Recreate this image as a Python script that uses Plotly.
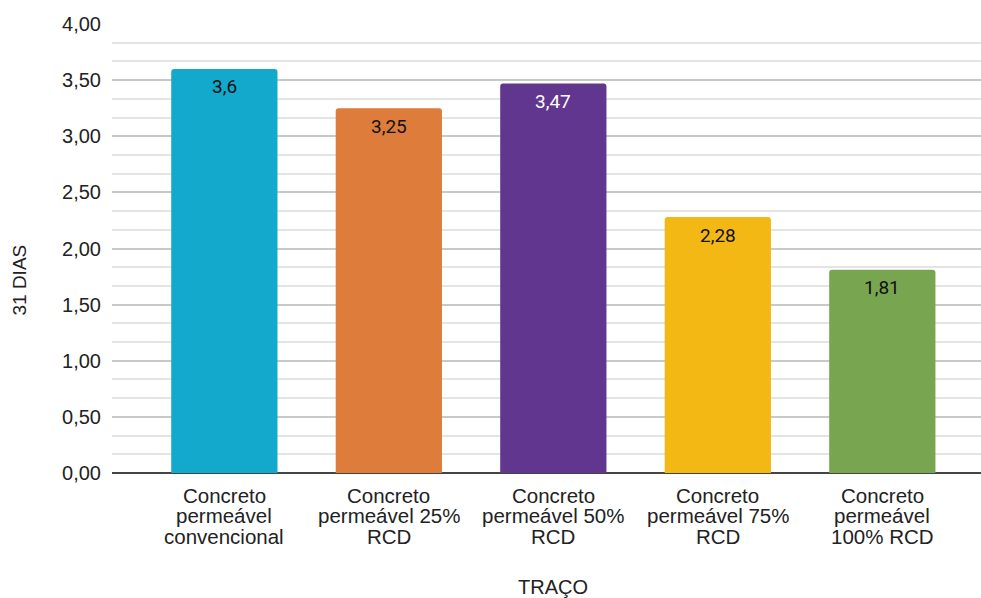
import plotly.graph_objects as go

categories = [
    "Concreto<br>permeável<br>convencional",
    "Concreto<br>permeável 25%<br>RCD",
    "Concreto<br>permeável 50%<br>RCD",
    "Concreto<br>permeável 75%<br>RCD",
    "Concreto<br>permeável<br>100% RCD",
]
values = [3.6, 3.25, 3.47, 2.28, 1.81]
colors = ["#12a9cc", "#dd7c3b", "#61368e", "#f3b814", "#78a54f"]
label_colors = ["#111111", "#111111", "#ffffff", "#111111", "#111111"]
y_ticks = [0, 0.5, 1.0, 1.5, 2.0, 2.5, 3.0, 3.5, 4.0]
x_title = "TRAÇO"
y_title = "31 DIAS"

FONT = "Liberation Sans, Arial, sans-serif"

fig = go.Figure()
fig.add_trace(go.Bar(
    x=list(range(len(categories))),
    y=values,
    marker=dict(color=colors, line=dict(width=0), cornerradius=3),
    width=0.646,
    hoverinfo="skip",
))

# data labels
for i, v in enumerate(values):
    fig.add_annotation(
        x=i, y=v, text=("%g" % v).replace(".", ","),
        showarrow=False, yanchor="middle", yshift=-18,
        font=dict(family="Roboto", size=19, color=label_colors[i]),
    )

# category labels (line by line for tight line spacing)
for i, cat in enumerate(categories):
    for j, line in enumerate(cat.split("<br>")):
        fig.add_annotation(
            x=i, y=0, text=line, showarrow=False,
            xanchor="center", yanchor="middle", yshift=-22 - 20.5 * j,
            font=dict(family=FONT, size=20.5, color="#222222"),
        )

# axis titles
fig.add_annotation(
    x=(len(categories) - 1) / 2, y=0, xref="x", yref="y", text=x_title,
    showarrow=False, xanchor="center", yanchor="middle", yshift=-114,
    font=dict(family=FONT, size=20, color="#222222"),
)
fig.add_annotation(
    x=-0.107, y=0.4287, xref="paper", yref="paper", text=y_title,
    showarrow=False, xanchor="center", yanchor="middle", textangle=-90,
    font=dict(family=FONT, size=19, color="#222222"),
)

fig.update_layout(
    width=981, height=598,
    margin=dict(l=112, r=0, t=24, b=125),
    paper_bgcolor="white", plot_bgcolor="white",
    separators=",.",
    showlegend=False,
    font=dict(family=FONT, size=20, color="#222222"),
    xaxis=dict(
        range=[-0.683, 4.6],
        showgrid=False,
        zeroline=False,
        showline=False,
        showticklabels=False,
        ticks="",
    ),
    yaxis=dict(
        range=[0, 4.0],
        tickvals=y_ticks,
        tickformat=".2f",
        showgrid=True,
        gridcolor="#c9c9c9",
        gridwidth=2,
        zeroline=True,
        zerolinecolor="#444444",
        zerolinewidth=2,
        showline=False,
        ticks="",
        ticklabelstandoff=10,
        tickfont=dict(family=FONT, size=20, color="#222222"),
        minor=dict(tick0=0, dtick=0.5 / 3, showgrid=True, gridcolor="#e4e4e4", gridwidth=1.5),
    ),
)

fig.write_html("out.html")
